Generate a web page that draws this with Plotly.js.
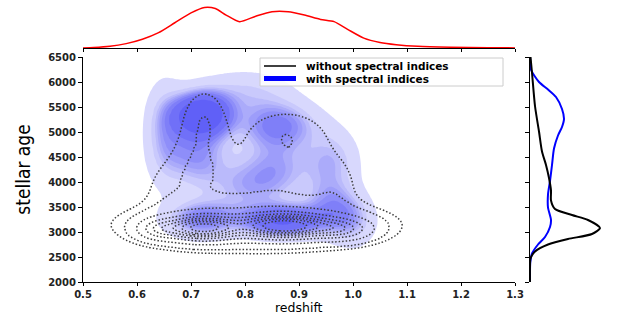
<!DOCTYPE html>
<html><head><meta charset="utf-8">
<script src="https://cdn.plot.ly/plotly-3.0.1.min.js"></script>
<style>html,body{margin:0;padding:0;background:#fff}#chart{width:623px;height:316px}</style>
</head><body><div id="chart"></div>
<script>
// ---- top marginal: redshift density (red) (arbitrary units)
const topRedshift = [0.50,0.52,0.55,0.58,0.61,0.64,0.67,0.70,0.725,0.745,0.765,0.79,0.82,0.85,0.88,0.91,0.94,0.965,0.99,1.02,1.05,1.08,1.12,1.18,1.25,1.30];
const topDensity  = [0.1,0.4,1.5,4,8,14,23,32,37,36,30,24,29,33,33,30,26,24,17,9,5,3,1.5,0.7,0.3,0.1];

// ---- right marginal: stellar age densities (arbitrary units)
const ageWith      = [6500,6400,6245,6000,5850,5700,5460,5260,5100,4930,4670,4340,4020,3750,3490,3240,3100,2900,2750,2570,2400,2200,2000];
const densWith     = [0,0.3,1,9,18,26,32,34,32,28,24,22,20,18,18,21,20,15,8,2,0.3,0,0];
const ageWithout   = [6500,6185,5520,5010,4610,4340,4080,3830,3630,3460,3340,3240,3080,2960,2860,2750,2610,2470,2300,2000];
const densWithout  = [0.5,2,5,9,12,16,19,21,21,25,42,58,70,62,38,18,5,0.5,0,0];

// ---- joint density "with spectral indices": kernel blobs (centre, spread, weight)
const withZ  = [0.72,0.86,0.71,0.87,0.72,0.96,0.96,0.65,0.80,0.86,1.00,0.80];
const withA  = [5350,5150,4600,3220,3250,4400,3500,5000,5800,4300,3200,3900];
const withSz = [0.035,0.05,0.04,0.05,0.045,0.035,0.035,0.025,0.06,0.045,0.03,0.05];
const withSa = [280,320,500,210,250,450,350,700,300,450,350,400];
const withW  = [0.8,0.55,0.6,0.6,0.4,0.35,0.3,0.35,0.3,0.45,0.2,0.4];

// ---- joint density "without spectral indices"
const woZ  = [0.72,0.875,0.98,0.64,0.82,0.725,0.71,0.89,0.87,0.65,0.80,0.97];
const woA  = [3080,3120,3060,3060,3150,5300,4300,4400,5050,3800,3900,3800];
const woSz = [0.045,0.055,0.035,0.025,0.13,0.03,0.04,0.07,0.05,0.03,0.08,0.03];
const woSa = [160,160,140,130,280,450,550,600,300,400,450,400];
const woW  = [1.0,1.3,0.3,0.15,1.2,0.09,0.15,0.27,0.06,0.05,0.13,0.05];

const xTicks = [0.5,0.6,0.7,0.8,0.9,1.0,1.1,1.2,1.3];
const yTicks = [2000,2500,3000,3500,4000,4500,5000,5500,6000,6500];
const fillColors = ['#d8d8fd','#c9c9fc','#babafb','#ababfa','#9d9dfa','#8e8ef9','#7f7ff8','#7070f8','#6060f7'];

// evaluation grid
const gx = [], gy = [];
for (let i = 0; i <= 200; i++) gx.push(+(0.40 + i * 0.005).toFixed(3));
for (let j = 0; j <= 220; j++) gy.push(1500 + j * 25);

function mixture(mx, my, sx, sy, w) {
  return gy.map(y => gx.map(x => {
    let s = 0;
    for (let i = 0; i < mx.length; i++) {
      const dx = (x - mx[i]) / sx[i], dy = (y - my[i]) / sy[i];
      s += w[i] / (sx[i] * sy[i]) * Math.exp(-0.5 * (dx * dx + dy * dy));
    }
    return s;
  }));
}
const PROPS = [];
for (let k = 0; k < 10; k++) PROPS.push(0.05 + k * 0.95 / 9);
function isoLevels(z) {
  const vals = z.flat().sort((a, b) => b - a);
  let tot = 0; for (const v of vals) tot += v;
  const cum = new Float64Array(vals.length); let c = 0;
  for (let i = 0; i < vals.length; i++) { c += vals[i]; cum[i] = c / tot; }
  return PROPS.map(p => {
    const t = 1 - p; let lo = 0, hi = vals.length - 1;
    while (lo < hi) { const m = (lo + hi) >> 1; if (cum[m] < t) lo = m + 1; else hi = m; }
    return vals[lo];
  });
}
function toIndex(z, L) {
  return z.map(row => row.map(d => {
    if (d < L[0]) return d / L[0] - 1;
    for (let k = 0; k < L.length - 1; k++) if (d <= L[k + 1]) return k + (d - L[k]) / (L[k + 1] - L[k]);
    return L.length - 1;
  }));
}
const zW = mixture(withZ, withA, withSz, withSa, withW);
const zO = mixture(woZ, woA, woSz, woSa, woW);
const zWi = toIndex(zW, isoLevels(zW));
const zOi = toIndex(zO, isoLevels(zO));

const scale = [[0, '#ffffff']];
fillColors.forEach((c, i) => scale.push([(i + 1) / 9, c]));

const W = 623, H = 316;
const px = v => v / W, py = v => 1 - v / H;
const X0 = px(83), X1 = px(515), Y0 = py(282), Y1 = py(57);

const data = [
  {type:'contour', x:gx, y:gy, z:zWi, xaxis:'x', yaxis:'y', autocontour:false,
   contours:{coloring:'fill', start:0, end:8, size:1, showlines:false},
   line:{width:0, smoothing:1}, colorscale:scale, showscale:false, hoverinfo:'skip', name:'with spectral indices'},
  {type:'contour', x:gx, y:gy, z:zOi, xaxis:'x', yaxis:'y', autocontour:false,
   contours:{coloring:'none', start:0, end:8, size:1},
   line:{color:'#3c3c3c', width:1.5, dash:'1.5px,2px', smoothing:1}, showscale:false, hoverinfo:'skip', name:'without spectral indices'},
  {type:'scatter', mode:'lines', x:topRedshift, y:topDensity, xaxis:'x2', yaxis:'y2',
   line:{color:'#ff0000', width:1.5, shape:'spline', smoothing:0.7}, hoverinfo:'skip'},
  {type:'scatter', mode:'lines', x:densWith, y:ageWith, xaxis:'x3', yaxis:'y3',
   line:{color:'#0000ff', width:2, shape:'spline', smoothing:0.7}, hoverinfo:'skip'},
  {type:'scatter', mode:'lines', x:densWithout, y:ageWithout, xaxis:'x3', yaxis:'y3',
   line:{color:'#000000', width:2, shape:'spline', smoothing:0.7}, hoverinfo:'skip'}
];

const tickFont = {family:'DejaVu Sans, sans-serif', size:10, weight:'bold', color:'#222'};
const layout = {
  width:W, height:H, margin:{l:0, r:0, t:0, b:0}, paper_bgcolor:'#fff', plot_bgcolor:'rgba(0,0,0,0)',
  showlegend:false, font:{family:'DejaVu Sans, sans-serif', size:11, color:'#000'},
  xaxis:{domain:[X0, X1], range:[0.5, 1.3], anchor:'y', tickvals:xTicks, tickformat:'.1f', ticks:'outside', ticklen:3,
         tickcolor:'#000', showline:true, linecolor:'#000', linewidth:1, showgrid:false, zeroline:false, tickfont:tickFont},
  yaxis:{domain:[Y0, Y1], range:[2000, 6500], anchor:'x', tickvals:yTicks, ticks:'outside', ticklen:4, tickcolor:'#000',
         showline:true, linecolor:'#000', linewidth:1, showgrid:false, zeroline:false, tickfont:tickFont,
         title:{text:'stellar age', font:{family:'DejaVu Sans Condensed, Liberation Sans Narrow, sans-serif', size:19}, standoff:12}},
  xaxis2:{domain:[X0, X1], range:[0.5, 1.3], anchor:'y2', tickvals:xTicks, ticks:'outside', ticklen:3, tickcolor:'#000',
          showticklabels:false, showline:true, linecolor:'#000', linewidth:1, showgrid:false, zeroline:false},
  yaxis2:{domain:[py(48), py(3)], range:[0, 41], anchor:'x2', visible:false},
  xaxis3:{domain:[px(530), 1], range:[0, 93], anchor:'y3', visible:false},
  yaxis3:{domain:[Y0, Y1], range:[2000, 6500], anchor:'x3', tickvals:yTicks, ticks:'outside', ticklen:4, tickcolor:'#000',
          showticklabels:false, showline:true, linecolor:'#000', linewidth:1, showgrid:false, zeroline:false},
  shapes:[
    {type:'rect', xref:'paper', yref:'paper', x0:px(260), x1:px(503), y0:py(58), y1:py(86),
     fillcolor:'rgba(255,255,255,0.85)', line:{color:'#cccccc', width:1}},
    {type:'line', xref:'paper', yref:'paper', x0:px(264), x1:px(296), y0:py(66), y1:py(66), line:{color:'#000', width:1.5}},
    {type:'rect', xref:'paper', yref:'paper', x0:px(264), x1:px(296), y0:py(76), y1:py(81), fillcolor:'#0000ff', line:{width:0}}
  ],
  annotations:[
    {xref:'paper', yref:'paper', x:px(305), y:py(65.5), xanchor:'left', yanchor:'middle', showarrow:false, borderpad:0,
     text:'without spectral indices', font:{family:'DejaVu Sans, sans-serif', size:10.5, weight:'bold', color:'#000'}},
    {xref:'paper', yref:'paper', x:px(305), y:py(78.5), xanchor:'left', yanchor:'middle', showarrow:false, borderpad:0,
     text:'with spectral indices', font:{family:'DejaVu Sans, sans-serif', size:10.5, weight:'bold', color:'#000'}},
    {xref:'paper', yref:'paper', x:px(299), y:0, xanchor:'center', yanchor:'bottom', showarrow:false, borderpad:0,
     text:'redshift', font:{family:'DejaVu Sans, sans-serif', size:12.5, color:'#000'}}
  ]
};
Plotly.newPlot('chart', data, layout, {staticPlot:true, displayModeBar:false});
</script></body></html>
